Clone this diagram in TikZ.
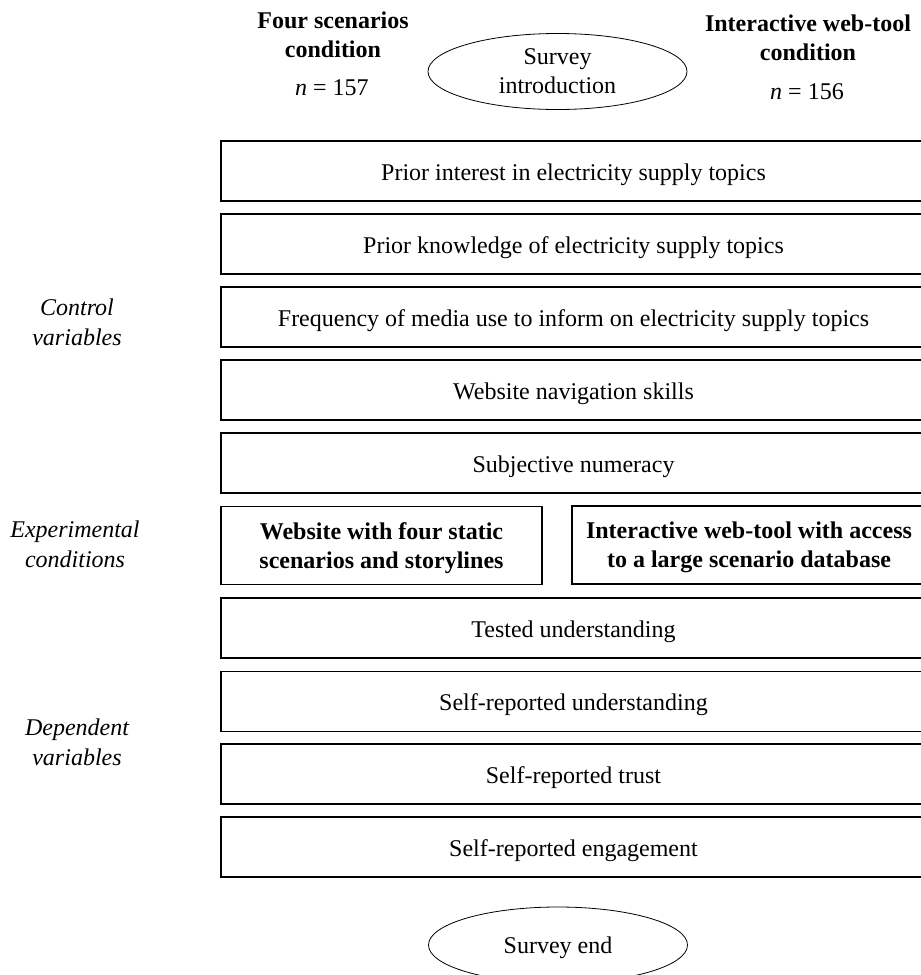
\documentclass[tikz,border=0pt]{standalone}
\usepackage{fontspec}
\setmainfont{Liberation Serif}
\usetikzlibrary{shapes.geometric}

\begin{document}
\begin{tikzpicture}[x=1pt,y=-1pt,font=\fontsize{24}{29}\selectfont,
  rowbox/.style={draw,line width=1.1pt,minimum width=705pt,minimum height=60pt,inner sep=0pt,text height=20pt,text depth=2pt,align=center},
  condbox/.style={draw,line width=1.1pt,minimum height=78pt,inner sep=0pt,text depth=-3pt,align=center,font=\fontsize{24}{29}\selectfont\bfseries},
  oval/.style={draw,ellipse,line width=0.8pt,minimum width=259pt,minimum height=76pt,inner sep=0pt,text depth=0pt,align=center},
  sidelab/.style={align=center,font=\fontsize{24}{30}\selectfont\itshape},
  headlab/.style={align=center,font=\fontsize{24}{29}\selectfont\bfseries}]
\clip (0,0) rectangle (921,975);
\useasboundingbox (0,0) rectangle (921,975);
% survey start and the two conditions
\node[oval] (intro) at (557.5,71.5) {Survey\\introduction};
\node[headlab] (fourhead) at (333,34.5) {Four scenarios\\condition};
\node (fourn) at (332,88) {\textit{n} = 157};
\node[headlab] (webhead) at (808,37.5) {Interactive web-tool\\condition};
\node (webn) at (807,92) {\textit{n} = 156};
% control variables
\foreach \nm/\y/\lab in {interest/171/Prior interest in electricity supply topics,
  knowledge/244/Prior knowledge of electricity supply topics,
  media/317/Frequency of media use to inform on electricity supply topics,
  navskill/390/Website navigation skills,
  numeracy/463/Subjective numeracy}{
  \node[rowbox] (\nm) at (573.5,\y) {\lab};
}
% experimental conditions
\node[condbox,minimum width=321pt] (static) at (381.5,545.5) {Website with four static\\scenarios and storylines};
\node[condbox,minimum width=354pt] (webtool) at (749,545) {Interactive web-tool with access\\to a large scenario database};
% dependent variables
\foreach \nm/\y/\lab in {tested/628/Tested understanding,
  selfund/701.5/Self-reported understanding,
  trust/774/Self-reported trust,
  engage/847/Self-reported engagement}{
  \node[rowbox] (\nm) at (573.5,\y) {\lab};
}
\node[oval] (fin) at (558,945) {Survey end};
% side labels
\node[sidelab] (ctrl) at (77,322) {Control\\variables};
\node[sidelab] (expcond) at (75,544) {Experimental\\conditions};
\node[sidelab] (dep) at (77,742) {Dependent\\variables};
\end{tikzpicture}
\end{document}
